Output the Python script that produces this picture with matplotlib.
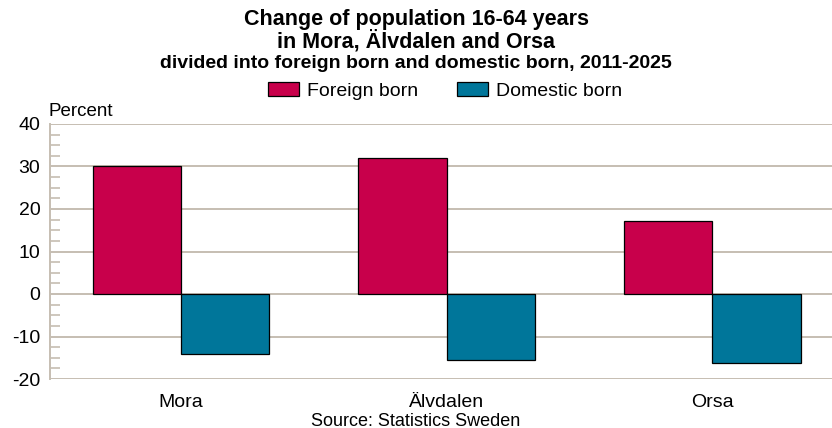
import matplotlib
matplotlib.use("Agg")
import matplotlib.pyplot as plt
import numpy as np
from matplotlib.patches import Patch

plt.rcParams["font.family"] = ["Liberation Sans", "DejaVu Sans"]

regions = ["Mora", "Älvdalen", "Orsa"]
foreign = [30.0, 31.9, 17.1]
domestic = [-14.2, -15.6, -16.3]
series_names = ["Foreign born", "Domestic born"]
yticks = [-20, -10, 0, 10, 20, 30, 40]

C_FOR = "#c8004b"
C_DOM = "#00769a"
GRID = "#c6beb2"

fig = plt.figure(figsize=(8.32, 4.28), dpi=100)
ax = fig.add_axes([50 / 832, 1 - 379 / 428, 782 / 832, 255 / 428])

x = np.arange(len(regions))
w = 0.332
ax.bar(x - w / 2, foreign, w, color=C_FOR, edgecolor="black", linewidth=0.9, zorder=3)
ax.bar(x + w / 2, domestic, w, color=C_DOM, edgecolor="black", linewidth=0.9, zorder=3)

ax.set_xlim(-0.493, 2.45)
ax.set_ylim(-20, 40)
ax.set_yticks(yticks)
ax.set_yticks(np.arange(-20, 40.1, 2.5), minor=True)
ax.set_yticklabels([str(t) for t in yticks], fontsize=14)
ax.set_xticks(x)
ax.set_xticklabels(regions, fontsize=14)
ax.tick_params(axis="x", length=0, pad=11)
ax.tick_params(axis="y", which="major", length=0, pad=7)
ax.tick_params(axis="y", which="minor", direction="in", length=7, color=GRID, width=1.2)
ax.grid(axis="y", which="major", color=GRID, linewidth=1.4, zorder=0)
for s in ["top", "right", "bottom"]:
    ax.spines[s].set_visible(False)
ax.spines["left"].set_color(GRID)
ax.spines["left"].set_linewidth(1.4)

fig.text(0.5, 1 - 20 / 428, "Change of population 16-64 years", ha="center", va="center",
         fontsize=15.5, fontweight="bold")
fig.text(0.5, 1 - 41 / 428, "in Mora, Älvdalen and Orsa", ha="center", va="center",
         fontsize=15.5, fontweight="bold")
fig.text(0.5, 1 - 64 / 428, "divided into foreign born and domestic born, 2011-2025",
         ha="center", va="center", fontsize=14, fontweight="bold")
fig.text(49 / 832, 1 - 111 / 428, "Percent", ha="left", va="center", fontsize=13.5)
fig.text(0.5, 1 - 421 / 428, "Source: Statistics Sweden", ha="center", va="center", fontsize=13)

handles = [Patch(facecolor=C_FOR, edgecolor="black", linewidth=0.9),
           Patch(facecolor=C_DOM, edgecolor="black", linewidth=0.9)]
fig.legend(handles, series_names, loc="center", bbox_to_anchor=(0.535, 1 - 91 / 428), ncol=2,
           frameon=False, fontsize=14, handlelength=1.6, handleheight=0.7,
           columnspacing=2.0, handletextpad=0.4)

fig.savefig("out.png", dpi=100)
